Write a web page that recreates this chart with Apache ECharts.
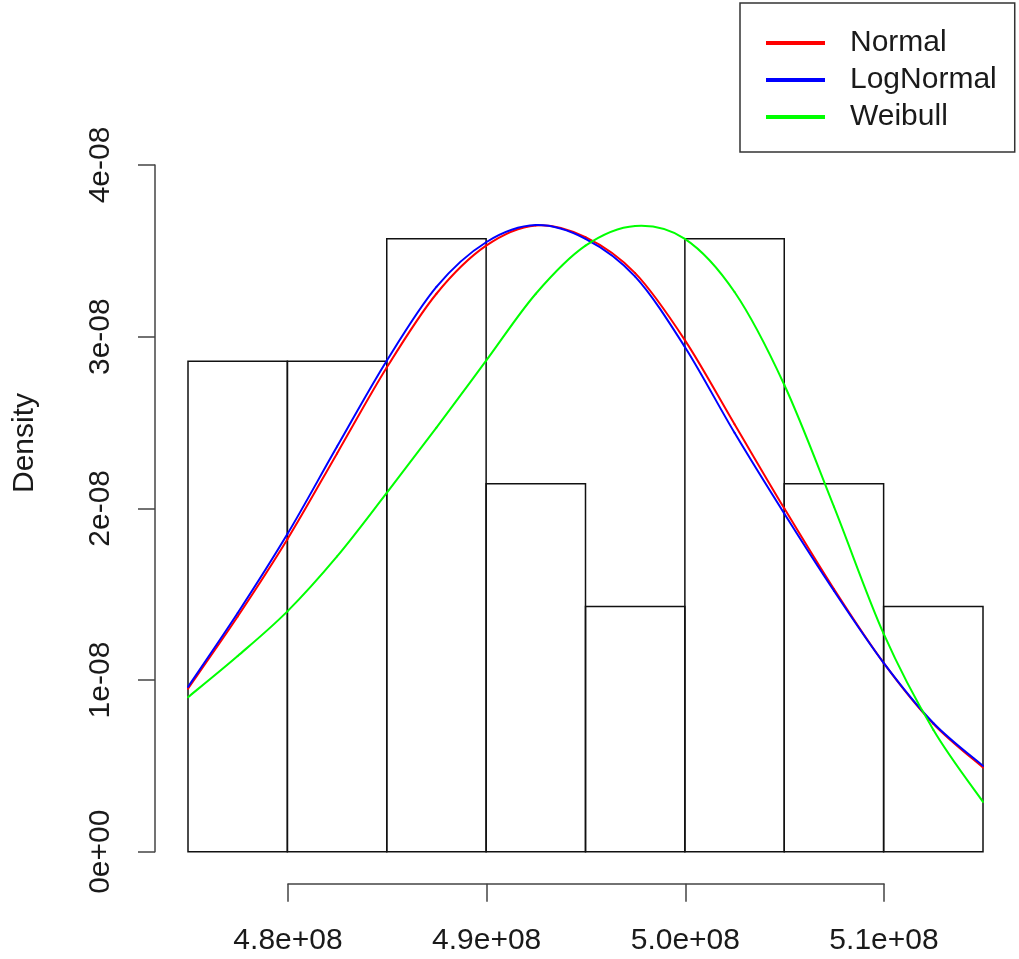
<!DOCTYPE html>
<html>
<head>
<meta charset="utf-8">
<title>Density</title>
<script src="https://cdn.jsdelivr.net/npm/echarts@6/dist/echarts.min.js"></script>
<style>
  html, body { margin: 0; padding: 0; background: #fff; }
  #chart { width: 1019px; height: 959px; }
</style>
</head>
<body>
<div id="chart"></div>
<script>
// Histogram bins (left/right breaks) and their densities
const binBreaks = [475000000, 480000000, 485000000, 490000000, 495000000, 500000000, 505000000, 510000000, 515000000];
const binDensity = [2.857e-8, 2.857e-8, 3.571e-8, 2.143e-8, 1.429e-8, 3.571e-8, 2.143e-8, 1.429e-8];

// Fitted density curves, sampled along x
const curveX = [475000000, 477500000, 480000000, 482500000, 485000000, 487500000, 490000000, 492500000, 495000000,
                497500000, 500000000, 502500000, 505000000, 507500000, 510000000, 512500000, 515000000];
const normalDensity = [0.95e-8, 1.37e-8, 1.82e-8, 2.32e-8, 2.82e-8, 3.25e-8, 3.53e-8, 3.648e-8, 3.58e-8,
                       3.37e-8, 2.98e-8, 2.49e-8, 2.00e-8, 1.53e-8, 1.10e-8, 0.745e-8, 0.49e-8];
const logNormalDensity = [0.96e-8, 1.39e-8, 1.85e-8, 2.36e-8, 2.86e-8, 3.29e-8, 3.55e-8, 3.65e-8, 3.57e-8,
                          3.35e-8, 2.94e-8, 2.44e-8, 1.97e-8, 1.52e-8, 1.10e-8, 0.75e-8, 0.50e-8];
const weibullDensity = [0.90e-8, 1.14e-8, 1.40e-8, 1.72e-8, 2.09e-8, 2.47e-8, 2.86e-8, 3.25e-8, 3.53e-8,
                        3.645e-8, 3.57e-8, 3.26e-8, 2.72e-8, 2.01e-8, 1.27e-8, 0.71e-8, 0.29e-8];

// Axis ticks and labels
const xTickMin = 480000000, xTickMax = 510000000, xTickStep = 10000000;
const xTickLabels = ['4.8e+08', '4.9e+08', '5.0e+08', '5.1e+08'];
const yTickMax = 4e-8, yTickStep = 1e-8;
const yTickLabels = ['0e+00', '1e-08', '2e-08', '3e-08', '4e-08'];

const seriesNames = ['Normal', 'LogNormal', 'Weibull'];
const seriesColors = ['#ff0000', '#0000ff', '#00ff00'];

const FONT = "'Liberation Sans', Arial, sans-serif";
const INK = '#1a1a1a';
const AXIS = '#444';

const histData = binDensity.map((d, i) => [binBreaks[i], binBreaks[i + 1], d]);
const curves = [normalDensity, logNormalDensity, weibullDensity];

// Each curve piece carries its own endpoints plus one neighbour on each side,
// so the piece can be drawn as a Catmull-Rom bezier in pixel space.
function curvePieces(ys) {
  const n = curveX.length;
  const pieces = [];
  for (let i = 0; i < n - 1; i++) {
    const a = Math.max(i - 1, 0), d = Math.min(i + 2, n - 1);
    pieces.push([curveX[a], ys[a], curveX[i], ys[i], curveX[i + 1], ys[i + 1], curveX[d], ys[d]]);
  }
  return pieces;
}

function renderPiece(color) {
  return (params, api) => {
    const p0 = api.coord([api.value(0), api.value(1)]);
    const p1 = api.coord([api.value(2), api.value(3)]);
    const p2 = api.coord([api.value(4), api.value(5)]);
    const p3 = api.coord([api.value(6), api.value(7)]);
    return {
      type: 'bezierCurve',
      shape: {
        x1: p1[0], y1: p1[1], x2: p2[0], y2: p2[1],
        cpx1: p1[0] + (p2[0] - p0[0]) / 6, cpy1: p1[1] + (p2[1] - p0[1]) / 6,
        cpx2: p2[0] - (p3[0] - p1[0]) / 6, cpy2: p2[1] - (p3[1] - p1[1]) / 6
      },
      style: { stroke: color, lineWidth: 2, fill: null, lineCap: 'round' }
    };
  };
}

const chart = echarts.init(document.getElementById('chart'), null, { renderer: 'canvas' });

chart.setOption({
  animation: false,
  backgroundColor: '#fff',
  textStyle: { fontFamily: FONT },
  grid: [
    { left: 188, right: 36, top: 165, bottom: 107.3 },
    { left: 288, right: 135, top: 165, bottom: 107.3 }
  ],
  xAxis: [
    { type: 'value', gridIndex: 0, min: binBreaks[0], max: binBreaks[binBreaks.length - 1], show: false },
    {
      type: 'value', gridIndex: 1, min: xTickMin, max: xTickMax, interval: xTickStep,
      position: 'bottom', offset: 32,
      axisLine: { show: true, onZero: false, lineStyle: { color: AXIS, width: 1.5 } },
      axisTick: { show: true, length: 18, lineStyle: { color: AXIS, width: 1.5 } },
      splitLine: { show: false },
      axisLabel: {
        margin: 42, fontSize: 30, color: INK, fontFamily: FONT,
        formatter: v => xTickLabels[Math.round((v - xTickMin) / xTickStep)]
      }
    }
  ],
  yAxis: [
    {
      type: 'value', gridIndex: 0, min: 0, max: yTickMax, interval: yTickStep,
      position: 'left', offset: 33,
      axisLine: { show: true, onZero: false, lineStyle: { color: AXIS, width: 1.5 } },
      axisTick: { show: true, length: 17, lineStyle: { color: AXIS, width: 1.5 } },
      splitLine: { show: false },
      axisLabel: {
        rotate: 90, margin: 39, fontSize: 30, color: INK, fontFamily: FONT,
        formatter: v => yTickLabels[Math.round(v / yTickStep)]
      }
    },
    { type: 'value', gridIndex: 1, min: 0, max: yTickMax, show: false }
  ],
  legend: {
    data: seriesNames,
    orient: 'vertical',
    left: 740, top: 3,
    padding: [25, 18, 20, 26],
    itemGap: 7,
    itemWidth: 59, itemHeight: 4,
    icon: 'rect',
    borderColor: '#333', borderWidth: 1.5,
    textStyle: { fontSize: 30, color: INK, fontFamily: FONT, padding: [0, 0, 0, 20], lineHeight: 30 }
  },
  graphic: [
    {
      type: 'text', x: 25, y: 443, rotation: Math.PI / 2,
      style: { text: 'Density', font: '30px ' + FONT, fill: INK, align: 'center', verticalAlign: 'middle' }
    }
  ],
  series: [
    {
      type: 'custom', name: 'hist', xAxisIndex: 0, yAxisIndex: 0,
      data: histData,
      encode: { x: [0, 1], y: 2 },
      renderItem: (params, api) => {
        const top = api.coord([api.value(0), api.value(2)]);
        const base = api.coord([api.value(1), 0]);
        return {
          type: 'rect',
          shape: { x: top[0], y: top[1], width: base[0] - top[0], height: base[1] - top[1] },
          style: { fill: 'none', stroke: '#111', lineWidth: 1.5 }
        };
      },
      silent: true
    },
    ...curves.map((ys, i) => ({
      type: 'custom', name: seriesNames[i], xAxisIndex: 0, yAxisIndex: 0,
      data: curvePieces(ys),
      encode: { x: [0, 2, 4, 6], y: [1, 3, 5, 7] },
      renderItem: renderPiece(seriesColors[i]),
      color: seriesColors[i],
      itemStyle: { color: seriesColors[i] },
      silent: true,
      z: 3 + i
    }))
  ]
});
</script>
</body>
</html>
